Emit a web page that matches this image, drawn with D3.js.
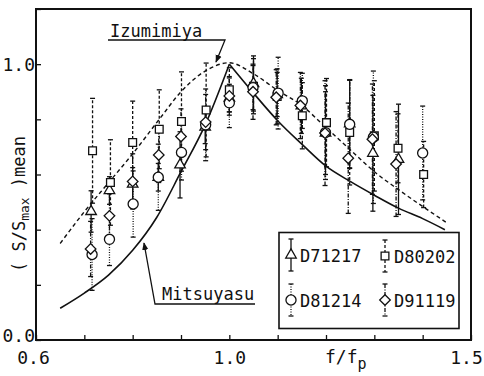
<!DOCTYPE html>
<html>
<head>
<meta charset="utf-8">
<script src="https://cdn.jsdelivr.net/npm/d3@7"></script>
<style>
  body { margin: 0; background: #fff; }
  text { font-family: "DejaVu Sans Mono", "Liberation Mono", monospace; fill: #111; }
</style>
</head>
<body>
<div id="chart"></div>
<script>
// ---- data ----
var xTicks = [0.6, 0.7, 0.8, 0.9, 1.0, 1.1, 1.2, 1.3, 1.4, 1.5];
var xTickLabels = {"0.6": "0.6", "1.0": "1.0", "1.5": "1.5"};
var yTicks = [0, 0.2, 0.4, 0.6, 0.8, 1.0, 1.2];
var yTickLabels = {"0": "0.0", "1": "1.0"};

// D71217 (triangle, solid bars)
var f71217 = [0.714, 0.752, 0.800, 0.853, 0.898, 0.950, 1.000, 1.050, 1.099, 1.149, 1.199, 1.249, 1.297, 1.350];
var s71217 = [0.466, 0.542, 0.565, 0.590, 0.635, 0.772, 0.877, 0.930, 0.890, 0.849, 0.750, 0.784, 0.677, 0.655];
var e71217 = [0.075, 0.050, 0.060, 0.050, 0.120, 0.060, 0.050, 0.100, 0.080, 0.100, 0.150, 0.160, 0.210, 0.200];
// D80202 (square, dashed bars)
var f80202 = [0.717, 0.754, 0.800, 0.855, 0.901, 0.952, 1.000, 1.050, 1.099, 1.151, 1.201, 1.249, 1.300, 1.349, 1.402];
var s80202 = [0.686, 0.571, 0.716, 0.764, 0.792, 0.834, 0.907, 0.920, 0.883, 0.813, 0.788, 0.752, 0.740, 0.695, 0.600];
var e80202 = [0.190, 0.155, 0.150, 0.143, 0.180, 0.170, 0.080, 0.100, 0.100, 0.120, 0.160, 0.190, 0.200, 0.125, 0.120];
// D81214 (circle, dotted bars)
var f81214 = [0.716, 0.752, 0.801, 0.853, 0.901, 0.951, 1.000, 1.049, 1.101, 1.151, 1.199, 1.249, 1.298, 1.400];
var s81214 = [0.310, 0.365, 0.493, 0.590, 0.680, 0.780, 0.860, 0.915, 0.895, 0.867, 0.752, 0.782, 0.735, 0.678];
var e81214 = [0.130, 0.095, 0.120, 0.120, 0.100, 0.130, 0.090, 0.080, 0.130, 0.100, 0.170, 0.160, 0.240, 0.170];
// D91119 (diamond, dash-dot bars)
var f91119 = [0.713, 0.752, 0.800, 0.854, 0.900, 0.951, 1.000, 1.049, 1.097, 1.147, 1.198, 1.246, 1.296, 1.345];
var s91119 = [0.330, 0.450, 0.575, 0.671, 0.738, 0.790, 0.885, 0.900, 0.880, 0.850, 0.750, 0.659, 0.728, 0.638];
var e91119 = [0.100, 0.080, 0.100, 0.100, 0.100, 0.100, 0.070, 0.100, 0.100, 0.120, 0.190, 0.200, 0.200, 0.190];

// Izumimiya spectrum (dashed)
var izuF = [0.65, 0.70, 0.75, 0.80, 0.855, 0.90, 0.95, 1.00, 1.05, 1.10, 1.15, 1.20, 1.25, 1.30, 1.35, 1.40, 1.45];
var izuS = [0.350, 0.465, 0.570, 0.675, 0.800, 0.900, 0.975, 1.005, 0.965, 0.905, 0.850, 0.770, 0.690, 0.610, 0.545, 0.484, 0.425];
// Mitsuyasu spectrum (solid), sharp peak at 1.0
var mitLeftF = [0.65, 0.70, 0.75, 0.80, 0.85, 0.90, 0.95, 1.00];
var mitLeftS = [0.115, 0.170, 0.235, 0.325, 0.445, 0.610, 0.780, 1.000];
var mitRightF = [1.00, 1.05, 1.10, 1.15, 1.20, 1.25, 1.30, 1.35, 1.40, 1.446];
var mitRightS = [1.000, 0.895, 0.795, 0.710, 0.630, 0.575, 0.525, 0.478, 0.440, 0.400];

var seriesNames = ["D71217", "D80202", "D81214", "D91119"];

// ---- layout ----
var svgWidth = 484;
var svgHeight = 376;
var plot = { left: 36, right: 471, top: 9, bottom: 340 };

var svg = d3.select("#chart")
  .append("svg")
  .attr("width", svgWidth)
  .attr("height", svgHeight);

var x = d3.scaleLinear().domain([0.6, 1.5]).range([plot.left, plot.right]);
var y = d3.scaleLinear().domain([0, 1.2]).range([plot.bottom, plot.top]);

// series styling
var styles = {
  D71217: { shape: "triangle", dash: null },
  D80202: { shape: "square", dash: "3,2" },
  D81214: { shape: "circle", dash: "1,1.5" },
  D91119: { shape: "diamond", dash: "4,1.5,1,1.5" }
};

function markerPath(shape) {
  if (shape === "triangle") return d3.symbol(d3.symbolTriangle, 48)();
  if (shape === "square") return d3.symbol(d3.symbolSquare, 60)();
  if (shape === "circle") return d3.symbol(d3.symbolCircle, 80)();
  return d3.symbol(d3.symbolSquare, 56)();
}

// axes
var bottomAxis = d3.axisBottom(x)
  .tickValues(xTicks)
  .tickSizeInner(-5)
  .tickSizeOuter(0)
  .tickFormat(d => xTickLabels[d.toFixed(1)] || "");
var xAxis = svg.append("g")
  .attr("transform", `translate(0, ${plot.bottom})`)
  .call(bottomAxis);
xAxis.select(".domain").remove();
xAxis.selectAll("line").attr("stroke", "#111").attr("stroke-width", 1.3);
xAxis.selectAll("text")
  .attr("y", 24).attr("dy", null)
  .attr("x", d => d === 1.5 ? -5 : (d === 0.6 ? -3 : 0))
  .style("font-size", "18px")
  .style("font-family", "DejaVu Sans Mono");

var leftAxis = d3.axisLeft(y)
  .tickValues(yTicks)
  .tickSizeInner(-5)
  .tickSizeOuter(0)
  .tickFormat(d => yTickLabels[String(Math.round(d * 10) / 10)] || "");
var yAxis = svg.append("g")
  .attr("transform", `translate(${plot.left}, 0)`)
  .call(leftAxis);
yAxis.select(".domain").remove();
yAxis.selectAll("line").attr("stroke", "#111").attr("stroke-width", 1.3);
yAxis.selectAll("text")
  .attr("x", -1)
  .attr("y", d => d === 0 ? -4 : 1)
  .attr("dy", "0.3em")
  .style("font-size", "18px")
  .style("font-family", "DejaVu Sans Mono");

// frame
svg.append("rect")
  .attr("x", plot.left).attr("y", plot.top)
  .attr("width", plot.right - plot.left)
  .attr("height", plot.bottom - plot.top)
  .attr("fill", "none")
  .attr("stroke", "#111")
  .attr("stroke-width", 2);

// axis titles
var yTitle = svg.append("text")
  .attr("transform", `translate(25, 204) rotate(-90)`)
  .attr("text-anchor", "middle")
  .style("font-size", "17px");
yTitle.append("tspan").text("( S/S");
yTitle.append("tspan").attr("dy", 4).style("font-size", "13px").text("max");
yTitle.append("tspan").attr("dy", -4).text(" )mean");

var xTitle = svg.append("text")
  .attr("x", 325).attr("y", 363)
  .style("font-size", "18px");
xTitle.append("tspan").text("f/f");
xTitle.append("tspan").attr("dy", 6).style("font-size", "15px").text("p");

// reference curves
var line = d3.line().x(d => x(d[0])).y(d => y(d[1])).curve(d3.curveMonotoneX);

svg.append("path")
  .datum(d3.zip(izuF, izuS))
  .attr("d", line)
  .attr("fill", "none")
  .attr("stroke", "#111")
  .attr("stroke-width", 1.4)
  .attr("stroke-dasharray", "4,3");

svg.append("path")
  .datum(d3.zip(mitLeftF, mitLeftS))
  .attr("d", line)
  .attr("fill", "none")
  .attr("stroke", "#111")
  .attr("stroke-width", 1.6);
svg.append("path")
  .datum(d3.zip(mitRightF, mitRightS))
  .attr("d", line)
  .attr("fill", "none")
  .attr("stroke", "#111")
  .attr("stroke-width", 1.6);

// build the data table
var table = {
  D71217: d3.zip(f71217, s71217, e71217),
  D80202: d3.zip(f80202, s80202, e80202),
  D81214: d3.zip(f81214, s81214, e81214),
  D91119: d3.zip(f91119, s91119, e91119)
};

// error bars first
seriesNames.forEach(name => {
  var st = styles[name];
  var g = svg.append("g");
  var bars = g.selectAll("g")
    .data(table[name])
    .enter()
    .append("g");
  bars.append("line")
    .attr("x1", d => x(d[0])).attr("x2", d => x(d[0]))
    .attr("y1", d => y(d[1] - d[2])).attr("y2", d => y(d[1] + d[2]))
    .attr("stroke", "#111")
    .attr("stroke-width", 1.3)
    .attr("stroke-dasharray", st.dash);
  [-1, 1].forEach(sgn => {
    bars.append("line")
      .attr("x1", d => x(d[0]) - 2.5).attr("x2", d => x(d[0]) + 2.5)
      .attr("y1", d => y(d[1] + sgn * d[2])).attr("y2", d => y(d[1] + sgn * d[2]))
      .attr("stroke", "#111")
      .attr("stroke-width", 1.3);
  });
});

// markers on top
seriesNames.forEach(name => {
  var st = styles[name];
  svg.append("g").selectAll("path")
    .data(table[name])
    .enter()
    .append("path")
    .attr("d", markerPath(st.shape))
    .attr("transform", d => `translate(${x(d[0])}, ${y(d[1])})` + (st.shape === "diamond" ? " rotate(45)" : ""))
    .attr("fill", "#fff")
    .attr("stroke", "#111")
    .attr("stroke-width", 1.3);
});

// curve labels with leader lines
svg.append("defs").append("marker")
  .attr("id", "arr")
  .attr("viewBox", "0 0 10 10")
  .attr("refX", 9).attr("refY", 5)
  .attr("markerWidth", 6).attr("markerHeight", 6)
  .attr("orient", "auto")
  .append("path")
  .attr("d", "M0,1 L10,5 L0,9 z")
  .attr("fill", "#111");

svg.append("text").attr("x", 110).attr("y", 37).style("font-size", "17px").text("Izumimiya");
svg.append("polyline")
  .attr("points", "108,40 225,40 216,62")
  .attr("fill", "none").attr("stroke", "#111").attr("stroke-width", 1.3)
  .attr("marker-end", "url(#arr)");

svg.append("text").attr("x", 162).attr("y", 300).style("font-size", "17px").text("Mitsuyasu");
svg.append("polyline")
  .attr("points", "255,304 155,304 144,243")
  .attr("fill", "none").attr("stroke", "#111").attr("stroke-width", 1.3)
  .attr("marker-end", "url(#arr)");

// legend
var legend = svg.append("g");
legend.append("rect")
  .attr("x", 279).attr("y", 232.5)
  .attr("width", 180).attr("height", 96)
  .attr("fill", "#fff")
  .attr("stroke", "#111")
  .attr("stroke-width", 1.6);

var legendPos = [[291, 255], [385, 256], [291, 300], [385, 300]];
seriesNames.forEach((name, i) => {
  var st = styles[name];
  var px = legendPos[i][0], py = legendPos[i][1];
  var item = legend.append("g");
  item.append("line")
    .attr("x1", px).attr("x2", px).attr("y1", py - 16).attr("y2", py + 16)
    .attr("stroke", "#111").attr("stroke-width", 1.3)
    .attr("stroke-dasharray", st.dash);
  [-16, 16].forEach(o => {
    item.append("line")
      .attr("x1", px - 2.5).attr("x2", px + 2.5)
      .attr("y1", py + o).attr("y2", py + o)
      .attr("stroke", "#111").attr("stroke-width", 1.3);
  });
  item.append("path")
    .attr("d", markerPath(st.shape))
    .attr("transform", `translate(${px}, ${py})` + (st.shape === "diamond" ? " rotate(45)" : ""))
    .attr("fill", "#fff").attr("stroke", "#111").attr("stroke-width", 1.3);
  item.append("text")
    .attr("x", px + 9).attr("y", py + 7)
    .style("font-size", "17px")
    .text(name);
});
</script>
</body>
</html>
